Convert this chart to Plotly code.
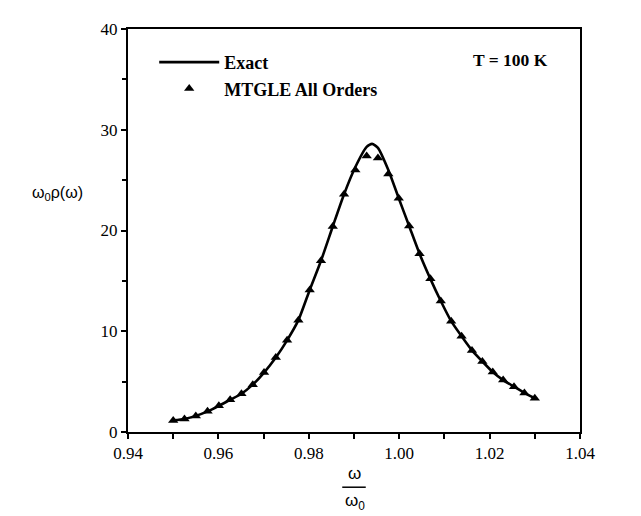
import plotly.graph_objects as go

# MTGLE All Orders (triangles)
mtgle_x = [0.9500, 0.9525, 0.9550, 0.9576, 0.9601, 0.9626, 0.9651, 0.9676,
           0.9701, 0.9727, 0.9752, 0.9777, 0.9802, 0.9827, 0.9853, 0.9878,
           0.9903, 0.9928, 0.9953, 0.9976, 0.9999, 1.0022, 1.0045, 1.0069,
           1.0092, 1.0115, 1.0138, 1.0161, 1.0184, 1.0207, 1.0230, 1.0254,
           1.0277, 1.0300]
mtgle_y = [1.15, 1.3, 1.6, 2.05, 2.6, 3.2, 3.8, 4.7,
           5.9, 7.4, 9.1, 11.1, 14.1, 17.0, 20.4, 23.6,
           26.0, 27.4, 27.2, 25.6, 23.2, 20.45, 17.7, 15.2,
           13.0, 11.0, 9.5, 8.1, 7.0, 5.95, 5.15, 4.5,
           3.88, 3.35]

# Exact (solid line)
exact_x = [0.9500, 0.9525, 0.9550, 0.9576, 0.9601, 0.9626, 0.9651, 0.9676,
           0.9701, 0.9727, 0.9752, 0.9777, 0.9802, 0.9827, 0.9853, 0.9878,
           0.9903, 0.9928, 0.9940, 0.9953, 0.9976, 0.9999, 1.0022, 1.0045,
           1.0069, 1.0092, 1.0115, 1.0138, 1.0161, 1.0184, 1.0207, 1.0230,
           1.0254, 1.0277, 1.0300]
exact_y = [1.15, 1.3, 1.6, 2.05, 2.6, 3.2, 3.8, 4.7,
           5.9, 7.4, 9.1, 11.1, 14.1, 17.0, 20.4, 23.6,
           26.3, 28.3, 28.6, 28.2, 26.0, 23.2, 20.45, 17.7,
           15.2, 13.0, 11.0, 9.5, 8.1, 7.0, 5.95, 5.15,
           4.5, 3.88, 3.35]

x_ticks = [0.94, 0.96, 0.98, 1.00, 1.02, 1.04]
x_tick_text = ["0.94", "0.96", "0.98", "1.00", "1.02", "1.04"]
y_ticks = [0, 10, 20, 30, 40]

serif = "Liberation Serif"

fig = go.Figure()
fig.add_trace(go.Scatter(
    x=exact_x, y=exact_y, mode="lines", name="Exact",
    line=dict(color="black", width=2.6, shape="spline", smoothing=0.6),
))
fig.add_trace(go.Scatter(
    x=mtgle_x, y=mtgle_y, mode="markers", name="MTGLE All Orders",
    marker=dict(symbol="triangle-up", size=9, color="black"),
))

axis_common = dict(
    showgrid=False, zeroline=False, showline=True, linecolor="black",
    linewidth=2, mirror=True, ticks="outside", tickcolor="black",
    tickwidth=1.5, ticklen=5,
    tickfont=dict(family=serif, size=17, color="black"),
)
fig.update_xaxes(range=[0.94, 1.04], tickvals=x_ticks, ticktext=x_tick_text,
                 minor=dict(dtick=0.01, ticks="outside", ticklen=5,
                            tickcolor="black", tickwidth=1.5),
                 **axis_common)
fig.update_yaxes(range=[0, 40], tickvals=y_ticks,
                 minor=dict(dtick=5, ticks="outside", ticklen=4,
                            tickcolor="black", tickwidth=1.5),
                 **axis_common)

fig.update_layout(
    width=641, height=516,
    margin=dict(l=120, r=69, t=14, b=92),
    paper_bgcolor="white", plot_bgcolor="white",
    showlegend=True,
    legend=dict(x=0.058, y=0.963, xanchor="left", yanchor="top",
                bgcolor="rgba(0,0,0,0)",
                font=dict(family=serif, size=18, color="black", weight="bold"),
                tracegroupgap=0, itemwidth=60),
    annotations=[
        dict(text="<b>T = 100 K</b>", xref="paper", yref="paper",
             x=0.847, y=0.924, xanchor="center", yanchor="middle",
             showarrow=False,
             font=dict(family=serif, size=17.5, color="black")),
        dict(text="ω<sub>0</sub>ρ(ω)", xref="paper", yref="paper",
             x=-0.155, y=0.592, xanchor="center", yanchor="middle",
             showarrow=False,
             font=dict(family="Liberation Sans", size=16, color="black")),
        dict(text="ω", xref="paper", yref="paper",
             x=0.5, y=-0.131, xanchor="center", yanchor="bottom",
             showarrow=False,
             font=dict(family="Liberation Sans", size=17, color="black")),
        dict(text="ω<sub>0</sub>", xref="paper", yref="paper",
             x=0.503, y=-0.142, xanchor="center", yanchor="top",
             showarrow=False,
             font=dict(family="Liberation Sans", size=17, color="black")),
    ],
    shapes=[
        dict(type="line", xref="paper", yref="paper",
             x0=0.474, x1=0.526, y0=-0.137, y1=-0.137,
             line=dict(color="black", width=1.5)),
    ],
)

fig.write_html("out.html")
